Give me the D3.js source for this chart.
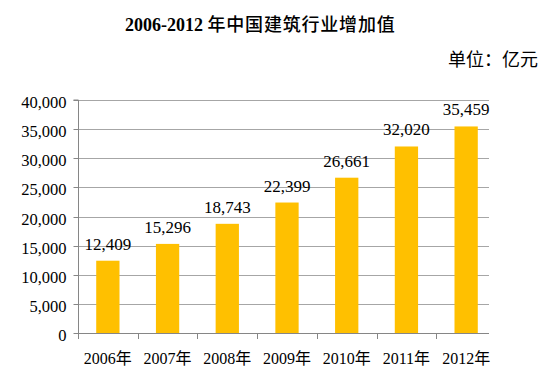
<!DOCTYPE html>
<html><head><meta charset="utf-8">
<script src="https://cdn.jsdelivr.net/npm/d3@7"></script>
<style>body{margin:0;background:#fff;}svg{display:block;}</style>
</head><body>
<svg id="c" width="547" height="370"></svg>
<script>
const categories = ["2006年","2007年","2008年","2009年","2010年","2011年","2012年"];
const values = [12409,15296,18743,22399,26661,32020,35459];
const yTicks = [0,5000,10000,15000,20000,25000,30000,35000,40000];
const titleYears = "2006-2012";
const titleText = "年中国建筑行业增加值";
const unitLabel = "单位：亿元";

(function () {
const svg = d3.select("#c");
const pL = 78, pR = 489, pT = 100, pB = 333;
const serif = "'Liberation Serif','Times New Roman',serif";
const cjk = "'Liberation Serif','Noto Sans CJK SC',serif";

const x = d3.scaleBand().domain(categories).range([pL, 496]).paddingInner(0.61).paddingOuter(0.305);
const y = d3.scaleLinear().domain([0, 40000]).range([pB, pT]);
const fmt = d3.format(",");

// gridlines
svg.append("g").selectAll("line").data(yTicks.filter(d => d > 0)).join("line")
  .attr("x1", pL).attr("x2", pR)
  .attr("y1", d => Math.round(y(d)) + 0.5).attr("y2", d => Math.round(y(d)) + 0.5)
  .attr("stroke", "#a6a6a6").attr("stroke-width", 1);

// y axis
const yAxis = svg.append("g").attr("transform", `translate(${pL + 0.5},0)`)
  .call(d3.axisLeft(y).tickValues(yTicks).tickFormat(fmt).tickSize(5).tickPadding(7));
yAxis.select(".domain").attr("stroke", "#868686").attr("d", `M-5,${pT}H0V${pB}`);
yAxis.selectAll(".tick line").attr("stroke", "#868686");
yAxis.selectAll(".tick text").attr("font-family", serif).attr("font-size", 16.5)
  .attr("fill", "#000").attr("dy", "0.45em");
yAxis.selectAll(".tick").attr("transform", d => `translate(0,${Math.round(y(d)) + 0.5})`);

// bars
svg.append("g").selectAll("rect").data(values).join("rect")
  .attr("x", (d, i) => x(categories[i]))
  .attr("width", x.bandwidth())
  .attr("y", d => y(d))
  .attr("height", d => pB - y(d))
  .attr("fill", "#FFC000");

// x axis
const step = x.step();
const xg = svg.append("g");
xg.append("line").attr("x1", pL).attr("x2", pR)
  .attr("y1", pB + 0.5).attr("y2", pB + 0.5).attr("stroke", "#868686");
xg.selectAll("line.t").data(categories).join("line").attr("class", "t")
  .attr("x1", d => Math.round(x(d) - (step - x.bandwidth()) / 2) + 0.5)
  .attr("x2", d => Math.round(x(d) - (step - x.bandwidth()) / 2) + 0.5)
  .attr("y1", pB).attr("y2", pB + 6).attr("stroke", "#868686");
xg.selectAll("text").data(categories).join("text")
  .attr("x", d => x(d) + x.bandwidth() / 2).attr("y", 364)
  .attr("text-anchor", "middle").attr("font-family", cjk).attr("font-size", 16)
  .text(d => d);

// value labels
svg.append("g").selectAll("text").data(values).join("text")
  .attr("x", (d, i) => x(categories[i]) + x.bandwidth() / 2)
  .attr("y", d => y(d) - 11)
  .attr("text-anchor", "middle").attr("font-family", serif).attr("font-size", 17)
  .text(d => fmt(d));

// title
const t = svg.append("text").attr("x", 125).attr("y", 31)
  .attr("font-family", cjk).attr("font-size", 18);
t.append("tspan").attr("font-weight", "bold").text(titleYears + " ");
t.append("tspan").attr("font-weight", 500).attr("letter-spacing", 0.8).text(titleText);
svg.append("text").attr("x", 538).attr("y", 66).attr("text-anchor", "end")
  .attr("font-family", cjk).attr("font-size", 18)
  .text(unitLabel);
})();
</script>
</body></html>
